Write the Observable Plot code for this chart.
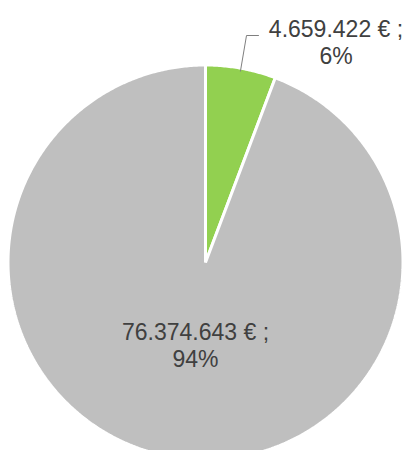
<!DOCTYPE html>
<html><head><meta charset="utf-8">
<script src="https://cdn.jsdelivr.net/npm/d3@7"></script>
<script src="https://cdn.jsdelivr.net/npm/@observablehq/plot@0.6"></script>
<style>html,body{margin:0;padding:0;background:#fff;overflow:hidden;}</style>
</head><body><div id="chart"></div>
<script>
const categories = ["A", "B"];
const values = [4659422, 76374643];
const valueLabels = ["4.659.422 € ;", "76.374.643 € ;"];
const percentLabels = ["6%", "94%"];
const colors = ["#92D050", "#BFBFBF"];

// layout (pixels)
const W = 409, H = 450, CX = 205, CY = 262, R = 197.5;
const toX = px => (px - CX) / R;
const toY = py => (CY - py) / R;

const arcs = d3.pie().sort(null).value(d => d)(values);
const pts = [];
arcs.forEach((a, i) => {
  pts.push({cat: categories[i], x: 0, y: 0});
  const n = Math.max(2, Math.ceil((a.endAngle - a.startAngle) / (Math.PI / 360)));
  for (let k = 0; k <= n; k++) {
    const t = a.startAngle + (a.endAngle - a.startAngle) * k / n;
    pts.push({cat: categories[i], x: Math.sin(t), y: Math.cos(t)});
  }
});

const mid0 = (arcs[0].startAngle + arcs[0].endAngle) / 2;
const leader = [
  {x: Math.sin(mid0) * 0.985, y: Math.cos(mid0) * 0.985},
  {x: toX(246), y: toY(35)},
  {x: toX(258), y: toY(35)}
];

const labels = [
  {x: toX(335.5), y: toY(41.1), t: valueLabels[0] + "\n" + percentLabels[0]},
  {x: toX(195), y: toY(344.6), t: valueLabels[1] + "\n" + percentLabels[1]}
];

const chart = Plot.plot({
  width: W, height: H,
  margin: 0,
  x: {domain: [-1, 1], range: [CX - R, CX + R], axis: null},
  y: {domain: [-1, 1], range: [CY + R, CY - R], axis: null},
  color: {domain: categories, range: colors},
  style: {background: "#fff"},
  marks: [
    Plot.line(pts, {x: "x", y: "y", z: "cat", fill: "cat", stroke: "white", strokeWidth: 3, curve: "linear-closed", strokeLinejoin: "miter"}),
    Plot.line(leader, {x: "x", y: "y", stroke: "#7F7F7F", strokeWidth: 1}),
    Plot.text(labels, {x: "x", y: "y", text: "t", fontSize: 23, fontFamily: "Liberation Sans, Arial, sans-serif", fill: "#404040", lineHeight: 27 / 23, textAnchor: "middle"})
  ]
});
document.getElementById("chart").appendChild(chart);
</script>
</body></html>
